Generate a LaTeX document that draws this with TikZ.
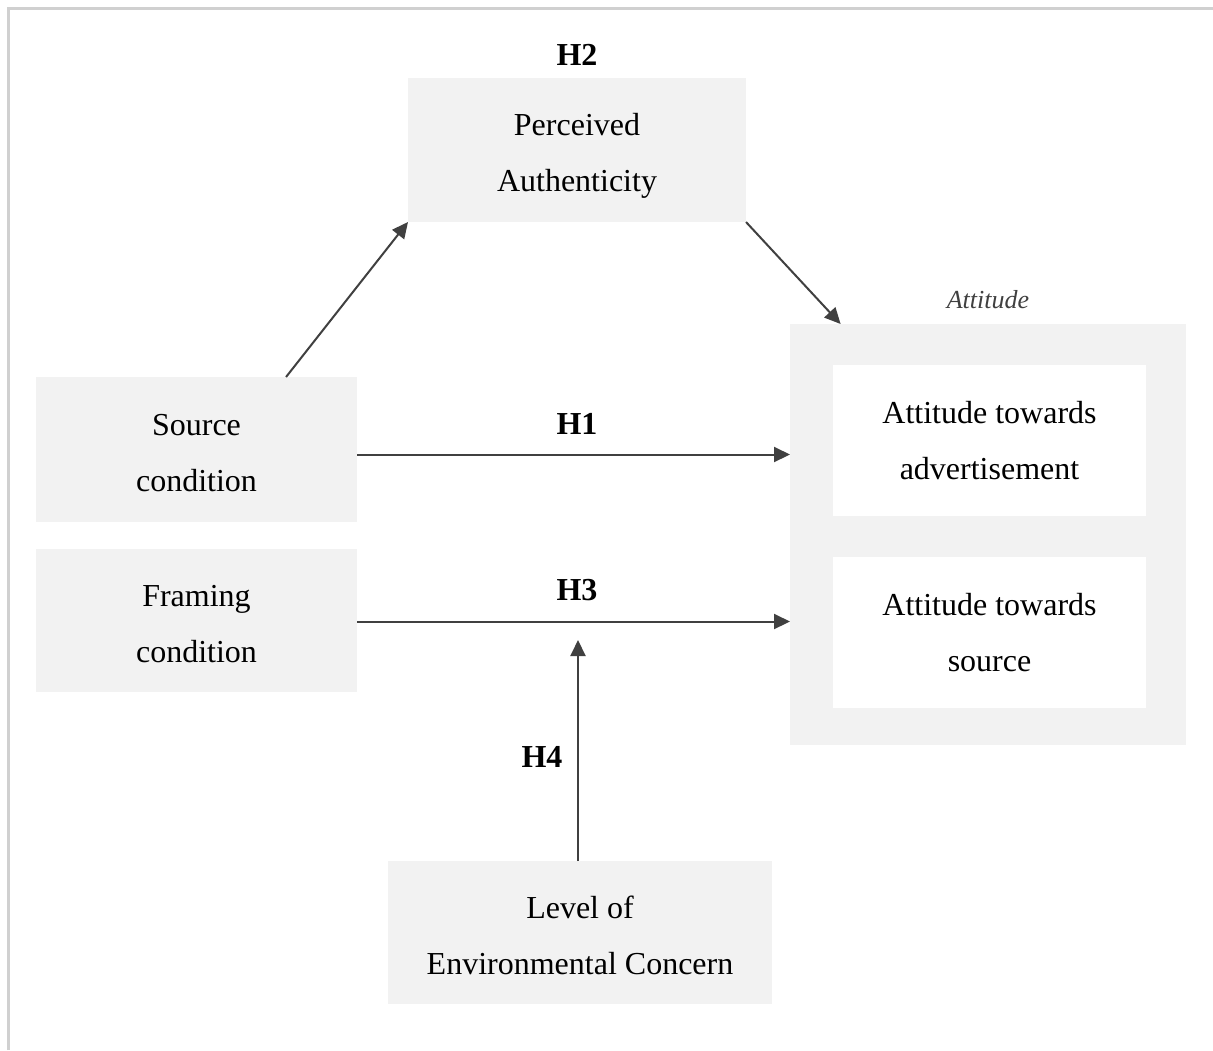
\documentclass[tikz,border=0pt]{standalone}
\usepackage{fontspec}
\setmainfont{Liberation Serif}
\usetikzlibrary{arrows.meta}

\definecolor{boxgray}{HTML}{F2F2F2}
\definecolor{linkgray}{HTML}{404040}
\definecolor{framegray}{HTML}{D0D0D0}

\begin{document}
\begin{tikzpicture}[
    x=0.5pt, y=-0.5pt,
    every node/.style={font=\fontsize{16pt}{28pt}\selectfont, inner sep=0pt, outer sep=0pt},
    varbox/.style={rectangle, fill=boxgray, align=center, text height=41.5pt, text depth=0pt},
    innerbox/.style={rectangle, fill=white, align=center, minimum width=156.5pt, minimum height=75.5pt},
    % Style des fleches
    link/.style={-{Triangle[length=8pt,width=7.5pt]}, draw=linkgray, line width=1pt},
    hyp/.style={font=\fontsize{16pt}{28pt}\selectfont\bfseries}
]
\useasboundingbox (0,0) rectangle (1213,1050);

% --- CADRE ---
\draw[framegray, line width=1.5pt] (8,1050) -- (8,8) -- (1213,8);

% --- VARIABLES ---
\node[varbox, minimum width=169pt, minimum height=72pt] (auth) at (577,150) {Perceived\\Authenticity};
\node[varbox, minimum width=160.5pt, minimum height=72.5pt] (src) at (196.5,449.5) {Source\\condition};
\node[varbox, minimum width=160.5pt, minimum height=71.5pt] (frm) at (196.5,620.5) {Framing\\condition};
\node[varbox, minimum width=192pt, minimum height=71.5pt] (lvl) at (580,932.5) {Level of\\Environmental Concern};

% --- ATTITUDE ---
\node[rectangle, fill=boxgray, minimum width=198pt, minimum height=210.5pt] (att) at (988,534.5) {};
\node[innerbox] (att-ad) at (989.5,440.5) {Attitude towards\\advertisement};
\node[innerbox] (att-src) at (989.5,632.5) {Attitude towards\\source};
\node[font=\fontsize{13pt}{16pt}\selectfont\itshape, text=black!75] (att-lbl) at (988,300) {Attitude};

% --- CONNEXIONS ---
\coordinate (h4-end) at (578,640);
\draw[link] (src.39) -- (auth.south west);
\draw[link] (auth.south east) -- (att.125.5);
\draw[link] ([yshift=-2.5pt]src.east) -- ([yshift=-2.5pt]src.east -| att.west);
\draw[link] ([yshift=-0.5pt]frm.east) -- ([yshift=-0.5pt]frm.east -| att.west);
\draw[link] (lvl.north -| h4-end) -- (h4-end);

% --- HYPOTHESES ---
\node[hyp] (h1) at (577,424) {H1};
\node[hyp] (h2) at (577,55) {H2};
\node[hyp] (h3) at (577,590) {H3};
\node[hyp] (h4) at (542,757) {H4};

\end{tikzpicture}
\end{document}
